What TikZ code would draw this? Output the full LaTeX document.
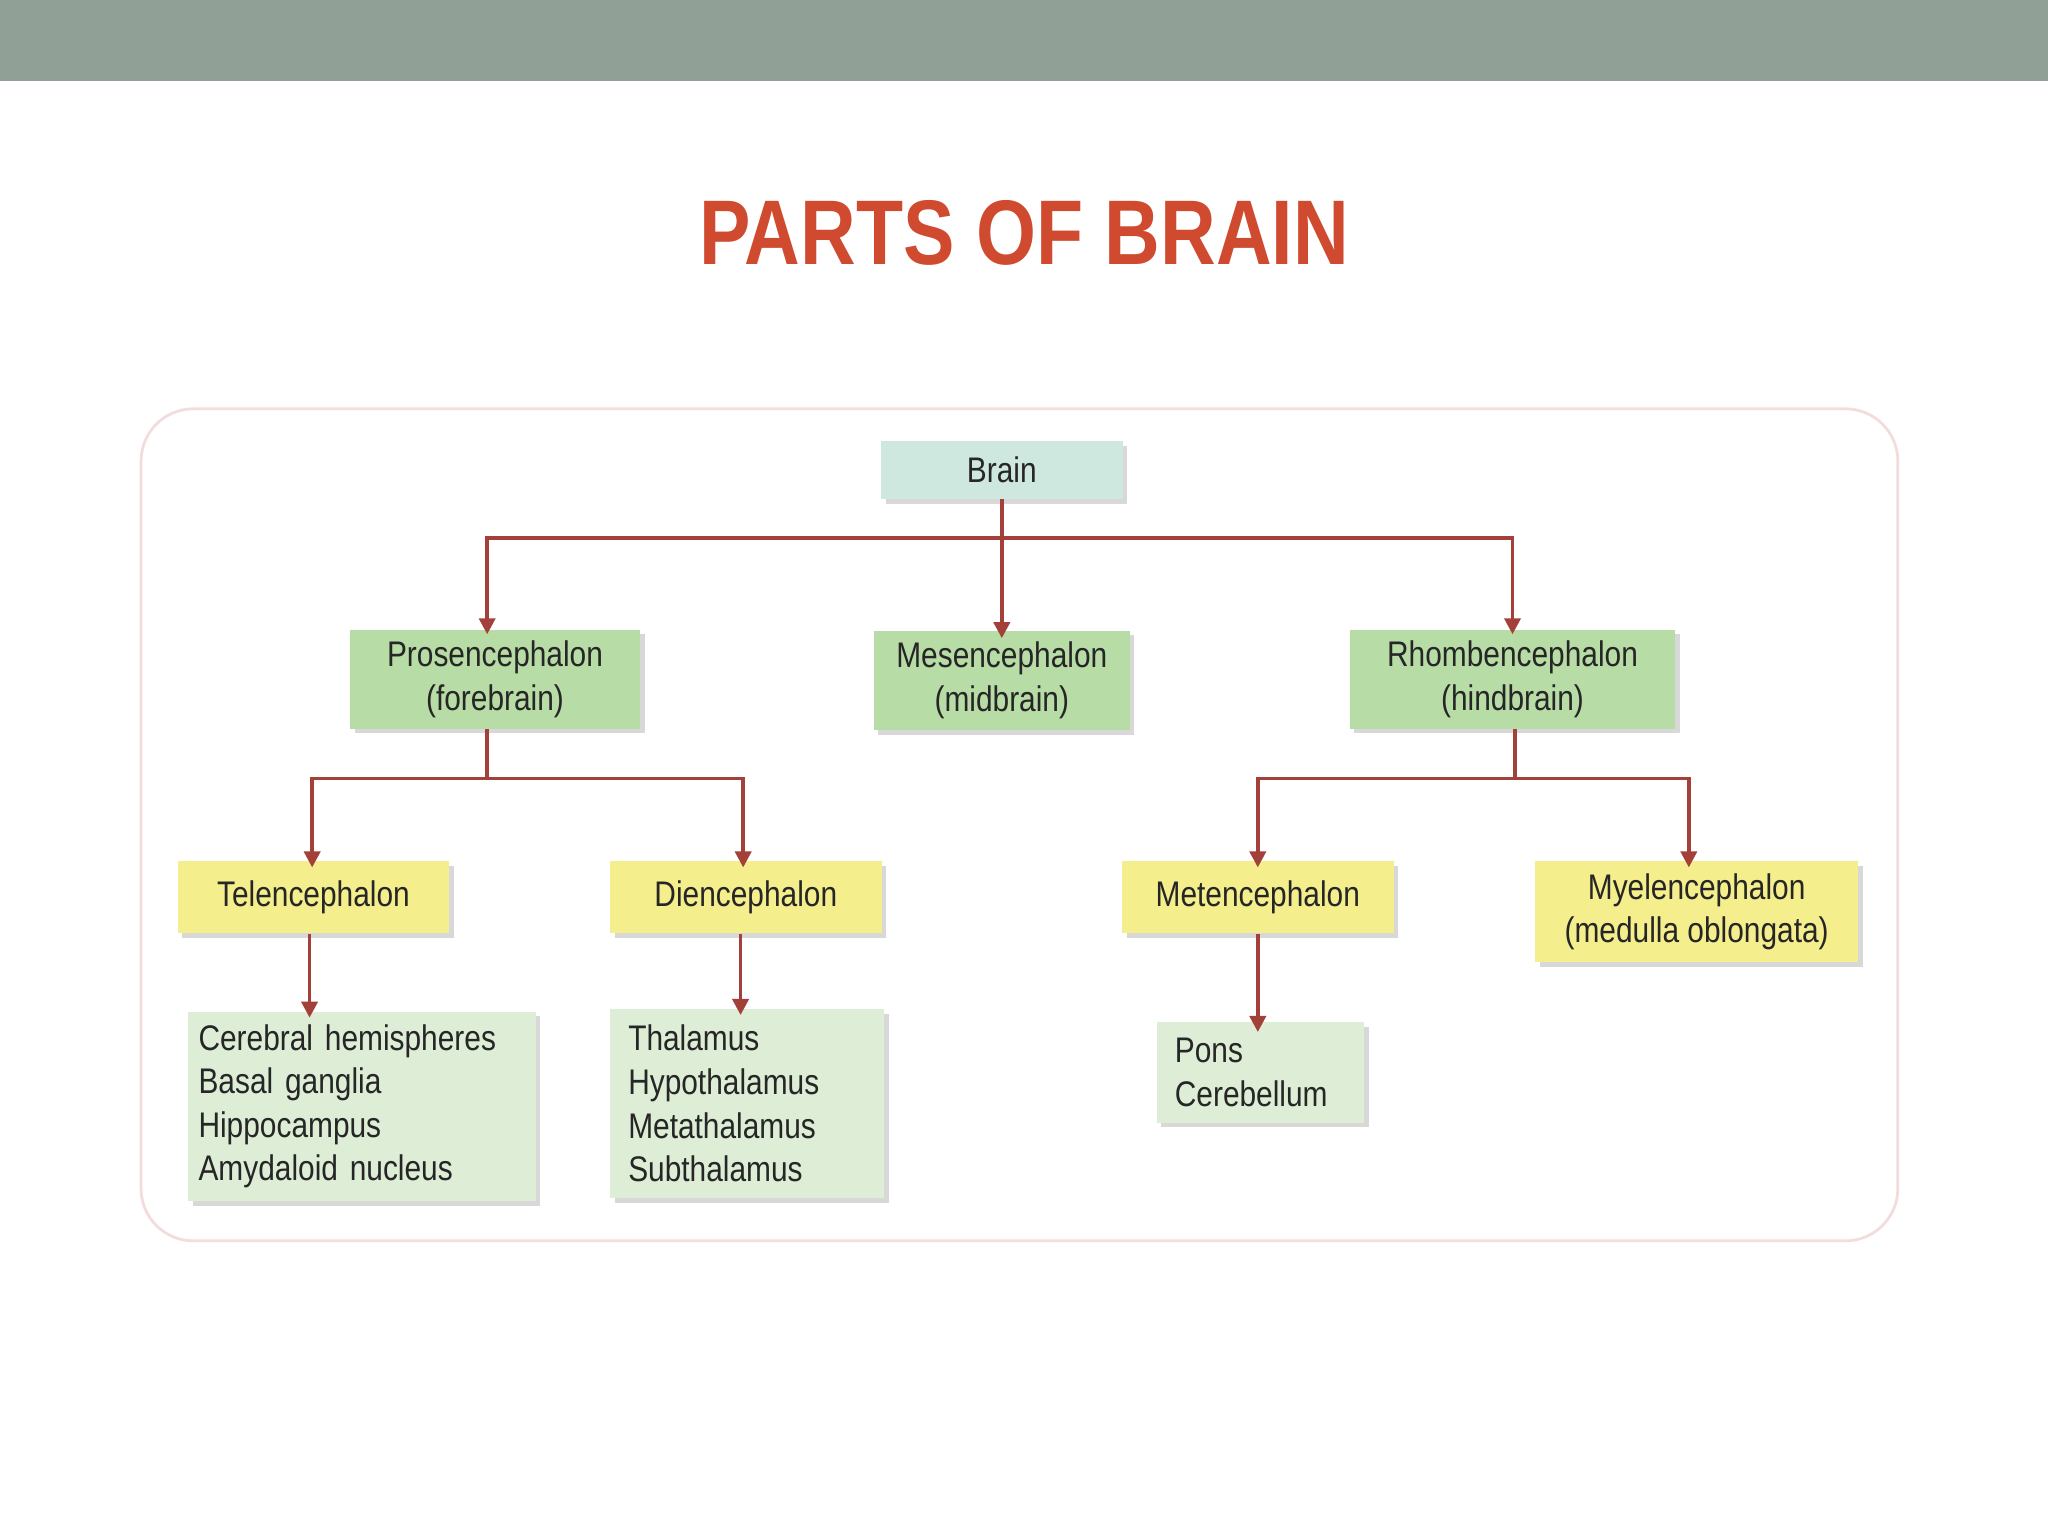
\documentclass[tikz,border=0pt]{standalone}
\usepackage{fontspec}
\setmainfont{Liberation Sans}
\newfontfamily\narrowf{Liberation Sans}[FakeStretch=0.84]
\usetikzlibrary{arrows.meta,shadows}
\definecolor{barc}{HTML}{91A096}
\definecolor{titc}{HTML}{D04A30}
\definecolor{lnc}{HTML}{A3403A}
\definecolor{brainc}{HTML}{CFE8DF}
\definecolor{greenc}{HTML}{B8DCA6}
\definecolor{yelc}{HTML}{F5EE8C}
\definecolor{listc}{HTML}{DDEDD6}
\definecolor{framec}{HTML}{F2DCDC}
\begin{document}
\begin{tikzpicture}[x=0.02cm,y=-0.02cm,
  box/.style={draw=none,inner sep=0pt,align=center,font=\narrowf\fontsize{15.5}{19}\selectfont,text=black!85,
     drop shadow={shadow xshift=2pt,shadow yshift=-2pt,fill=black!25,opacity=0.6}},
  bx/.style args={#1/#2}{box,minimum width=#1*0.02cm,minimum height=#2*0.02cm},
  conn/.style={draw=lnc,line width=1.6pt},
  arr/.style={conn,-{Triangle[length=7pt,width=7pt]}}]
\useasboundingbox (0,0) rectangle (1568,1176);
\fill[white] (0,0) rectangle (1568,1176);
\fill[barc] (0,0) rectangle (1568,62);
\node[font=\narrowf\bfseries\fontsize{40}{46}\selectfont,text=titc] (title) at (784,178) {PARTS OF BRAIN};
\draw[framec,line width=1.2pt,rounded corners=40*0.02cm] (108,313) rectangle (1453,950);

\node[bx=185/44,fill=brainc] (brain) at (767,360) {Brain};
\node[bx=222/76,fill=greenc] (pro) at (379,520) {Prosencephalon\\(forebrain)};
\node[bx=196/76,fill=greenc] (mes) at (767,521) {Mesencephalon\\(midbrain)};
\node[bx=249/76,fill=greenc] (rho) at (1158,520) {Rhombencephalon\\(hindbrain)};
\node[bx=208/55,fill=yelc] (tel) at (240,687) {Telencephalon};
\node[bx=208/55,fill=yelc] (die) at (571,687) {Diencephalon};
\node[bx=208/55,fill=yelc] (met) at (963,687) {Metencephalon};
\node[bx=247/77,fill=yelc] (mye) at (1299,698) {Myelencephalon\\(medulla oblongata)};
\node[bx=266/145,fill=listc,align=left,text width=250*0.02cm] (l1) at (277,847) {Cerebral hemispheres\\Basal ganglia\\Hippocampus\\Amydaloid nucleus};
\node[bx=210/145,fill=listc,align=left,text width=182*0.02cm] (l2) at (572,845) {Thalamus\\Hypothalamus\\Metathalamus\\Subthalamus};
\node[bx=159/77,fill=listc,align=left,text width=131*0.02cm] (l3) at (965,821) {Pons\\Cerebellum};

\coordinate (j1) at (767,412);
\coordinate (j2) at (373,596);
\coordinate (j3) at (1160,596);
\draw[conn] (brain.south) -- (j1);
\draw[arr] (j1) -| ([xshift=-6*0.02cm,yshift=-4*0.02cm]pro.north);
\draw[arr] (j1) -- ([yshift=-6*0.02cm]mes.north);
\draw[arr] (j1) -| ([yshift=-4*0.02cm]rho.north);
\draw[conn] (pro.south -| j2) -- (j2);
\draw[arr] (j2) -| ([xshift=-1*0.02cm,yshift=-5*0.02cm]tel.north);
\draw[arr] (j2) -| ([xshift=-2*0.02cm,yshift=-5*0.02cm]die.north);
\draw[conn] (rho.south -| j3) -- (j3);
\draw[arr] (j3) -| ([yshift=-5*0.02cm]met.north);
\draw[arr] (j3) -| ([xshift=-6*0.02cm,yshift=-5*0.02cm]mye.north);
\draw[arr] ([xshift=-3*0.02cm]tel.south) -- ([xshift=-3*0.02cm,yshift=-5*0.02cm]l1.north -| tel.south);
\draw[arr] ([xshift=-4*0.02cm]die.south) -- ([xshift=-4*0.02cm,yshift=-5*0.02cm]l2.north -| die.south);
\draw[arr] (met.south) -- ([yshift=-8*0.02cm]l3.north -| met.south);
\end{tikzpicture}
\end{document}
